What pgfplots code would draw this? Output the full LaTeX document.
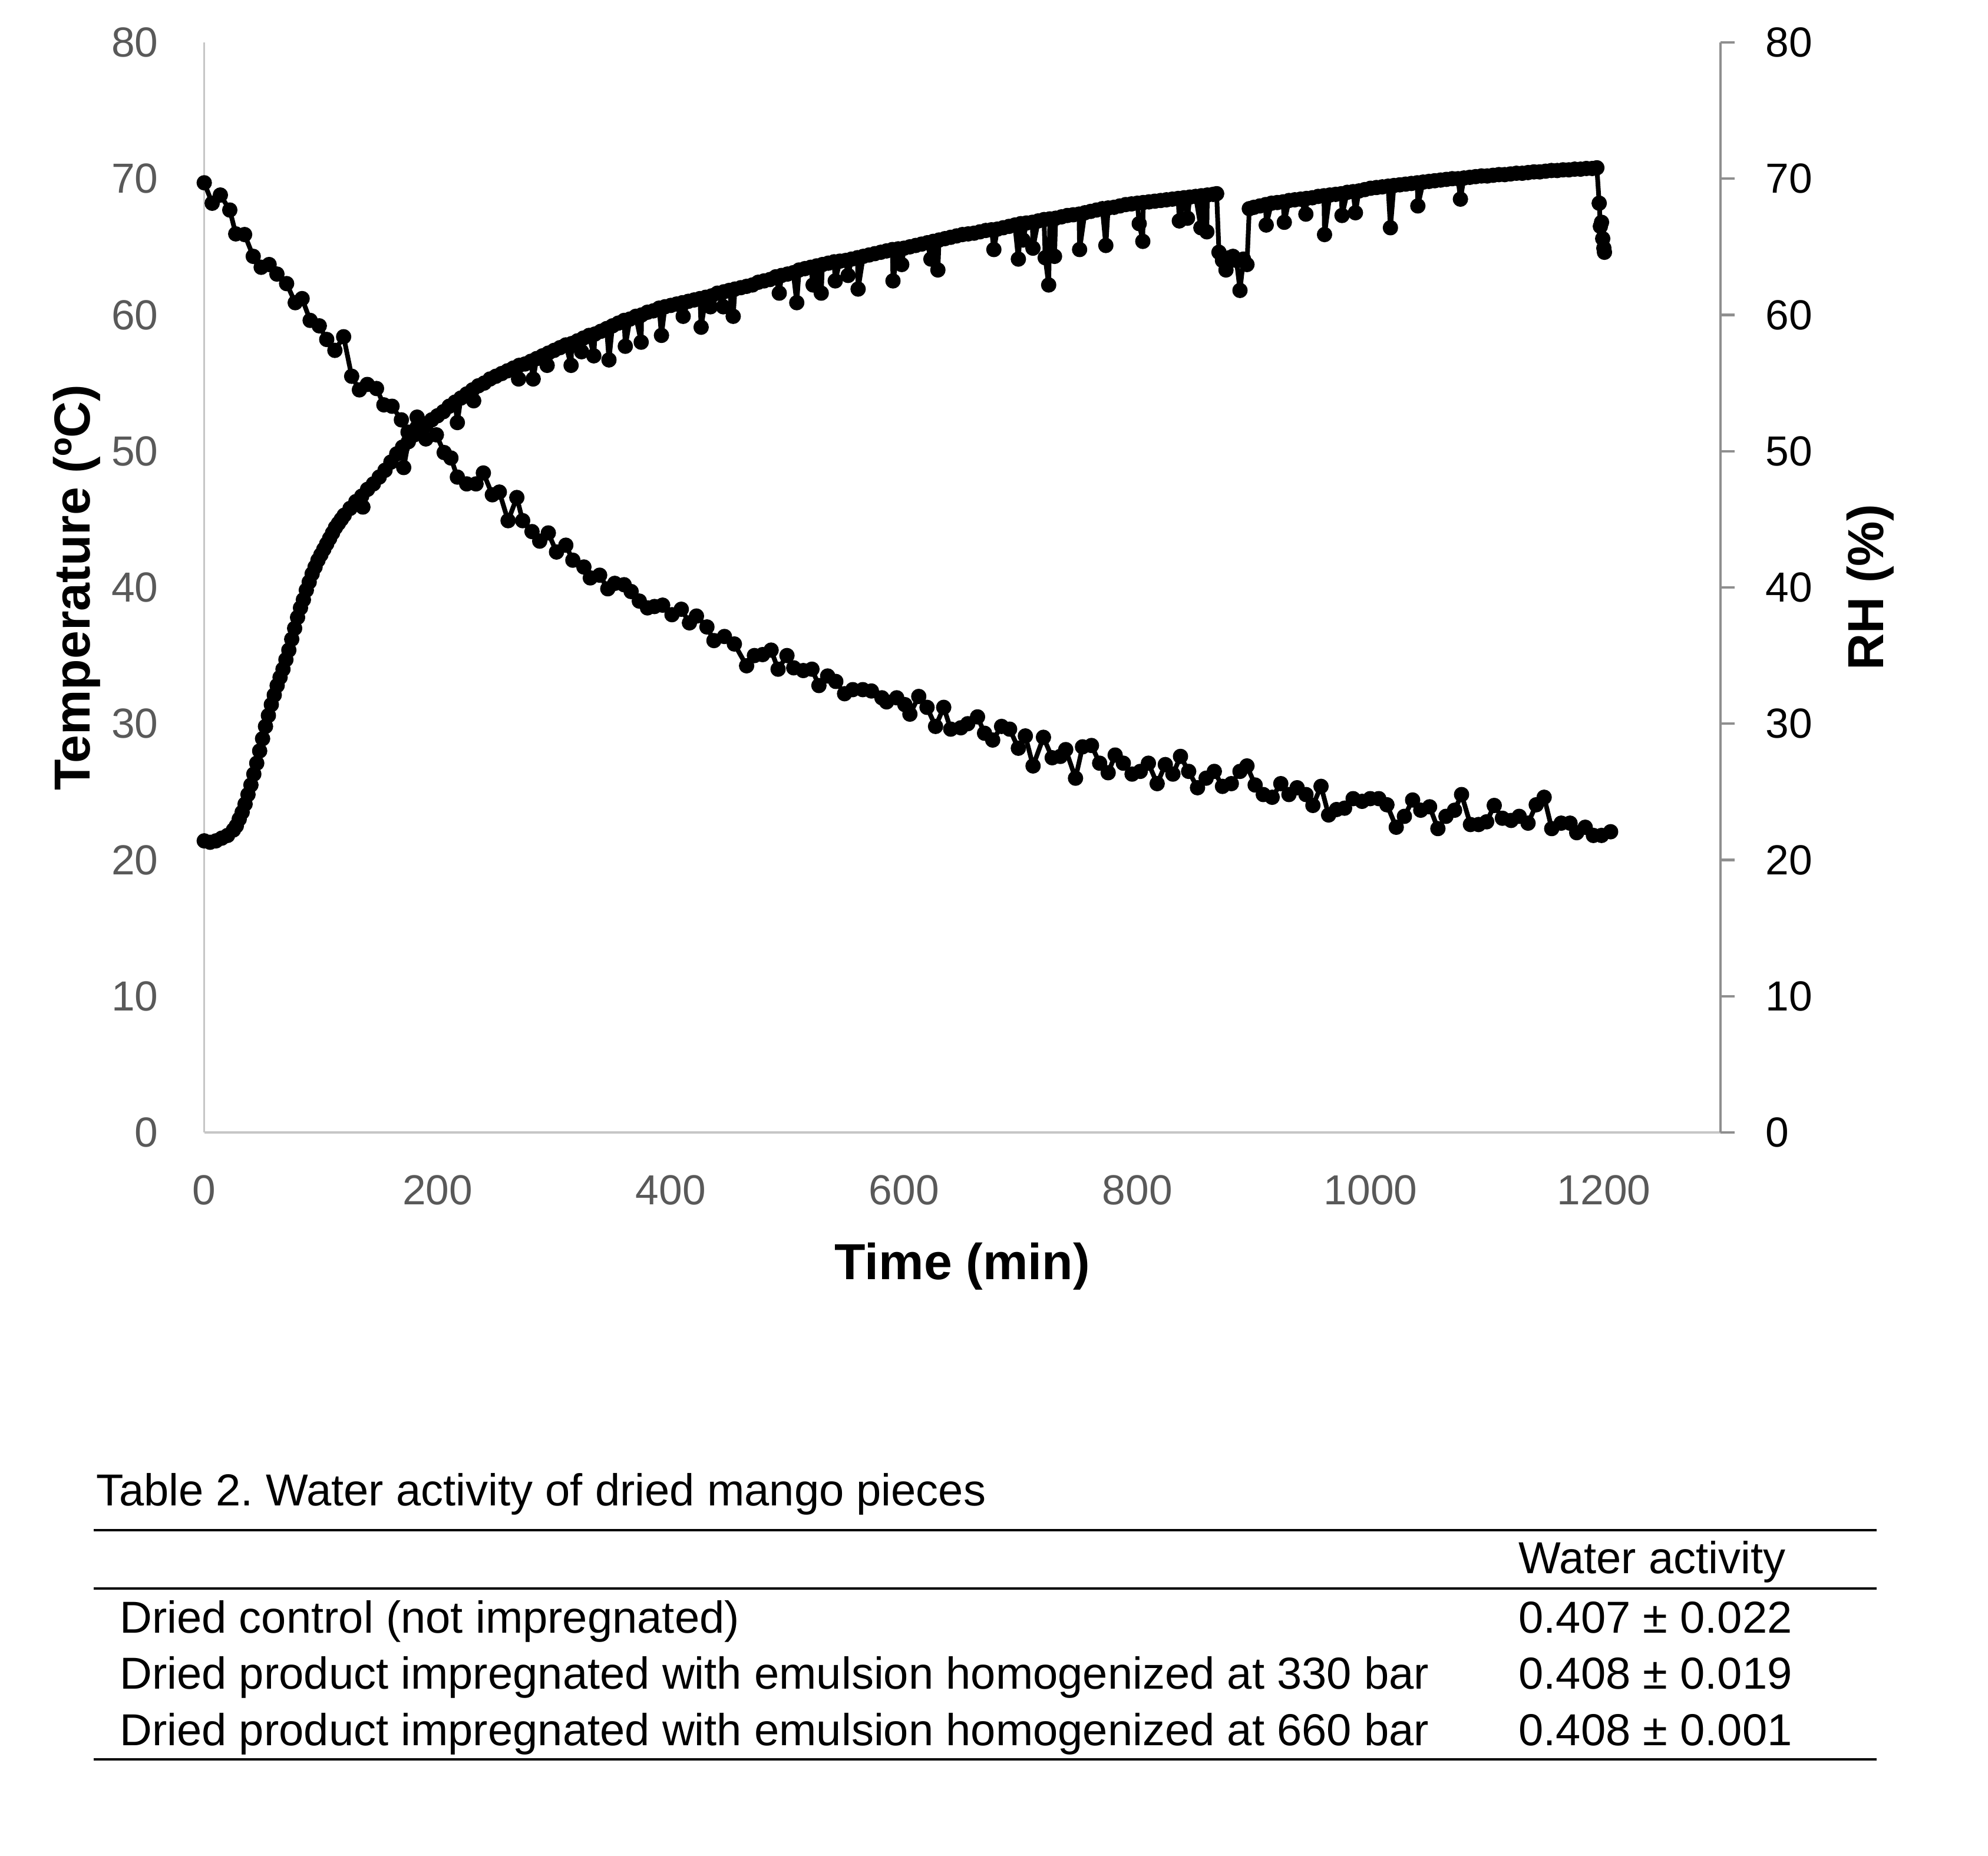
\documentclass[border=0pt]{standalone}
\usepackage{pgfplots}
\pgfplotsset{compat=1.18}
\usepackage{fontspec}
\setmainfont{Liberation Sans}
\definecolor{axlight}{HTML}{C6C6C6}
\definecolor{axdark}{HTML}{8F8F8F}
\definecolor{tickgray}{HTML}{595959}

\pgfplotsset{
  chartbase/.style={
    scale only axis, width=386pt, height=277.5pt,
    xmin=0, xmax=1300, ymin=0, ymax=80,
    at={(52pt,-288.3pt)}, anchor=south west,
    /pgf/number format/assume math mode=true,
    /pgf/number format/set thousands separator={},
    ticklabel style={font=\fontsize{10.7}{12}\selectfont},
    ytick={0,10,...,80},
  },
  series/.style={black, line width=1.2pt, line join=round, line cap=round,
    mark=*, mark size=1.35pt, mark options={solid, fill=black}},
}

\begin{document}
\frenchspacing
\begin{tikzpicture}
\path[use as bounding box] (0,0) rectangle (506.1pt,-472.5pt);

\begin{axis}[chartbase,
  axis x line*=bottom, axis y line*=left,
  x axis line style={-, draw=axlight, line width=0.55pt},
  y axis line style={-, draw=axlight, line width=0.55pt},
  xtick={0,200,...,1200},
  major tick length=0pt, tick align=inside,
  xticklabel style={anchor=base, inner sep=0pt, yshift=-18.45pt, text=tickgray},
  yticklabel style={anchor=east, inner sep=0pt, xshift=-11.5pt, text=tickgray},
  xlabel={Time (min)},
  every axis x label/.style={at={(axis description cs:0.5,-0.1351)}, anchor=base,
    inner sep=0pt, font=\fontsize{12.9}{14}\selectfont\bfseries},
  ylabel={Temperature (ºC)},
  every axis y label/.style={at={(axis description cs:-0.0841,0.5)}, anchor=center,
    rotate=90, inner sep=0pt, font=\fontsize{12.9}{14}\selectfont\bfseries},
]
% temperature inside the dryer
\addplot[series] coordinates {
(0,21.4) (5,21.3) (10,21.4) (15,21.6) (20,21.8) (25,22.2) (27.5,22.5) (30,23.0) (32.5,23.5) (35,24.1)
(37.5,24.8) (40,25.5) (42.5,26.3) (45,27.1) (47.5,28.0) (50,28.9) (52.5,29.8) (55,30.6) (57.5,31.4)
(60,32.1) (62.5,32.8) (65,33.4) (67.5,34.0) (70,34.7) (72.5,35.4) (75,36.2) (77.5,37.0)
(80,37.8) (82.5,38.5) (85,39.1) (87.5,39.8) (90,40.4) (92.5,41.0) (95,41.5) (97.5,42.0) (100,42.4)
(102.5,42.8) (105,43.2) (107.5,43.6) (110,44.0) (112.5,44.4) (115,44.7) (117.5,45.0)
(120,45.3) (125,45.8) (130,46.3) (135,46.7) (136,45.9) (140,47.2) (145,47.6) (150,48.1)
(155,48.6) (160,49.2) (165,49.8) (170,50.3) (171,48.8) (175,50.7) (180,51.2) (185,51.6)
(190,51.9) (195,52.3) (200,52.6) (205,52.9) (210,53.3) (215,53.6) (217,52.1) (220,53.9)
(225,54.2) (230,54.5) (231,53.7) (235,54.8) (240,55.0) (245,55.3) (250,55.5) (255,55.7)
(260,55.9) (265,56.1) (269.5,55.3) (270,56.3) (275,56.4) (280,56.6) (282,55.3) (285,56.8)
(290,57.0) (294,56.3) (295,57.2) (300,57.4) (305,57.6) (310,57.8) (314.5,56.3) (315,57.9)
(320,58.1) (323.5,57.3) (325,58.3) (330,58.5) (334,57.0) (335,58.6) (340,58.8) (345,59.0)
(347,56.7) (350,59.2) (355,59.4) (360,59.6) (361,57.7) (365,59.7) (370,59.9) (374.6,58.0)
(375,60.0) (380,60.2) (385,60.3) (390,60.5) (392,58.5) (395,60.6) (400,60.7) (405,60.8)
(410,60.9) (410.6,59.9) (415,61.0) (420,61.1) (425,61.2) (426,59.1) (430,61.3) (434,60.6)
(435,61.4) (440,61.6) (445,60.6) (445.5,61.7) (450,61.8) (453.5,59.9) (455,61.9) (460,62.0)
(465,62.1) (470,62.2) (475,62.4) (480,62.5) (485,62.6) (490,62.8) (493,61.6) (495,62.9)
(500,63.0) (505,63.1) (508,60.9) (510,63.3) (515,63.4) (520,63.5) (522,62.2) (525,63.6)
(529,61.6) (530,63.7) (535,63.8) (540,63.9) (541,62.5) (545,63.95) (550,64.0) (552,62.9)
(555,64.1) (560,64.2) (560.6,61.9) (565,64.3) (570,64.4) (575,64.5) (580,64.6) (585,64.7)
(590,64.8) (590.5,62.5) (595,64.85) (598,63.7) (600,64.9) (605,65.0) (610,65.1) (615,65.2)
(620,65.3) (623,64.1) (625,65.4) (629,63.3) (630,65.5) (635,65.6) (640,65.7) (645,65.8)
(650,65.9) (655,65.95) (660,66.0) (665,66.1) (670,66.2) (675,66.25) (677,64.8) (680,66.3)
(685,66.4) (690,66.5) (695,66.6) (698,64.1) (700,66.7) (702,65.5) (705,66.75) (710,66.8)
(710.5,64.9) (715,66.9) (720,67.0) (721,64.2) (724,62.2) (725,67.05) (729,64.3) (730,67.1)
(735,67.2) (740,67.3) (745,67.35) (750,67.4) (750.5,64.8) (755,67.5) (760,67.6) (765,67.7)
(770,67.8) (773,65.1) (775,67.85) (780,67.9) (785,68.0) (790,68.1) (795,68.15) (800,68.2)
(801.6,66.7) (804.7,65.4) (805,68.25) (810,68.3) (815,68.35) (820,68.4) (825,68.45) (830,68.5)
(835,68.55) (836,66.9) (840,68.6) (843,67.1) (845,68.65) (850,68.7) (854.5,66.4) (855,68.75)
(859.6,66.1) (860,68.8) (865,68.85) (868,68.9) (870,64.6) (873,64.0) (876,63.3) (879,64.2)
(882,64.3) (885,64.0) (888,61.8) (891,64.1) (894,63.7) (896,67.8) (900,67.9) (905,68.0)
(910,68.1) (910.5,66.6) (915,68.2) (920,68.25) (925,68.3) (926,66.8) (930,68.4) (935,68.45)
(940,68.5) (944.5,67.4) (945,68.55) (950,68.6) (955,68.7) (960,68.75) (960.5,65.9) (965,68.8)
(970,68.85) (975,68.9) (975.5,67.3) (980,69.0) (985,69.05) (987,67.5) (990,69.1) (995,69.2)
(1000,69.3) (1005,69.35) (1010,69.4) (1015,69.45) (1017,66.4) (1020,69.5) (1025,69.55) (1030,69.6)
(1035,69.65) (1040,69.7) (1040.5,68.0) (1045,69.75) (1050,69.8) (1055,69.85) (1060,69.9) (1065,69.95)
(1070,70.0) (1075,70.0) (1077,68.5) (1080,70.05) (1085,70.1) (1090,70.15) (1095,70.2) (1100,70.2)
(1105,70.25) (1110,70.3) (1115,70.3) (1120,70.35) (1125,70.4) (1130,70.4) (1135,70.45) (1140,70.5)
(1145,70.5) (1150,70.55) (1155,70.6) (1160,70.6) (1165,70.65) (1170,70.65) (1175,70.7) (1180,70.7)
(1185,70.75) (1190,70.75) (1194,70.8) (1196,68.2) (1197,66.5) (1198,66.8) (1199,65.6) (1200,64.9)
(1200.5,64.6)
};
% relative humidity
\addplot[series] coordinates {
(0,69.7) (6.8,68.2) (13.8,68.8) (21.9,67.7) (27,65.95) (34.6,65.9) (42,64.3) (48.8,63.5)
(55.6,63.7) (62.3,63.0) (70.6,62.3) (78,60.9) (83.9,61.2) (90.8,59.6) (98.6,59.2) (105,58.2)
(112,57.4) (119.5,58.4) (126.4,55.5) (133,54.5) (139.8,54.9) (147.7,54.6) (154,53.4) (161,53.3)
(169,52.3) (174.7,51.4) (182.5,52.5) (190,50.9) (199,51.2) (205.7,49.9) (211.5,49.5) (217,48.1)
(225,47.6) (233,47.6) (239.3,48.4) (247,46.8) (253,47.0) (260.5,44.9) (268,46.6) (273,44.9)
(281,44.1) (287.6,43.4) (295,44.0) (302,42.6) (310,43.1) (316,42.0) (325.5,41.5) (331,40.7)
(339,40.9) (346,39.9) (352,40.3) (360,40.2) (366,39.7) (373,39.0) (380,38.5) (386,38.6)
(393,38.7) (401,38.0) (409,38.4) (416,37.4) (422,37.9) (431,37.1) (437,36.1) (446,36.4)
(454.5,35.85) (465,34.25) (471.7,35.0) (478.7,35.07) (486,35.4) (492,34.0) (499.6,35.0) (505.4,34.1)
(513.6,33.9) (521,34.0) (527,32.8) (534.5,33.5) (541.5,33.1) (549,32.2) (556,32.5) (564.6,32.5)
(572,32.4) (581,31.9) (585,31.6) (593.7,31.9) (600.7,31.4) (605,30.7) (612.6,32.0) (619.7,31.2)
(627,29.8) (634,31.2) (640,29.6) (648.7,29.7) (654.6,30.0) (663,30.5) (669,29.3) (676,28.8)
(683.6,29.8) (690.5,29.6) (698,28.2) (704,29.1) (710.6,26.9) (719.5,29.0) (727,27.5) (734,27.6)
(738.6,28.1) (747,26.0) (753,28.3) (760.7,28.4) (767.7,27.1) (775,26.4) (781,27.7) (788,27.1)
(795.5,26.3) (802.5,26.5) (809.5,27.1) (817,25.6) (824,27.0) (830.5,26.3) (837,27.6) (844,26.5)
(851.6,25.3) (859,26.0) (866,26.5) (873,25.4) (880.6,25.6) (888,26.5) (894,26.9) (901,25.5)
(908,24.8) (915.6,24.6) (923,25.6) (930,24.8) (937,25.3) (944.6,24.8) (950.5,24.0) (957.5,25.4)
(964,23.3) (970.8,23.7) (977.7,23.8) (985,24.5) (992.7,24.3) (999.7,24.5) (1007,24.5) (1014,24.05)
(1022,22.4) (1029,23.2) (1036,24.4) (1043,23.65) (1050.6,23.9) (1057.7,22.3) (1064.6,23.2) (1072,23.65)
(1078,24.8) (1085.6,22.6) (1092.6,22.6) (1099.5,22.8) (1106,24.0) (1113,23.06) (1120.5,22.9) (1127.4,23.2)
(1135,22.7) (1142,24.05) (1148.8,24.6) (1155.3,22.3) (1163.4,22.7) (1171,22.7) (1176.7,22.0) (1184,22.4)
(1191,21.8) (1198,21.8) (1205.8,22.07)
};
\end{axis}

% secondary (RH) axis on the right
\begin{axis}[chartbase,
  axis y line*=right, axis x line=none,
  y axis line style={-, draw=axdark, line width=0.65pt},
  ytick style={draw=axdark, line width=0.65pt},
  tick align=outside, major tick length=3.6pt,
  yticklabel style={anchor=west, inner sep=0pt, xshift=7.65pt, text=black},
  ylabel={RH (\%)},
  every axis y label/.style={at={(axis description cs:1.0986,0.5)}, anchor=center,
    rotate=90, inner sep=0pt, font=\fontsize{12.9}{14}\selectfont\bfseries},
]
\end{axis}

% table below the chart
\begin{scope}[every node/.style={inner sep=0pt, anchor=base west, font=\fontsize{11.4}{13}\selectfont}]
\node at (24.4pt,-383.4pt) {Table 2. Water activity of dried mango pieces};
\draw[line width=0.55pt] (23.9pt,-389.55pt) -- (477.75pt,-389.55pt);
\node at (386.4pt,-400.65pt) {Water activity};
\draw[line width=0.55pt] (23.9pt,-404.4pt) -- (477.75pt,-404.4pt);
\node at (30.3pt,-415.8pt) {Dried control (not impregnated)};
\node at (386.4pt,-415.8pt) {0.407 ± 0.022};
\node at (30.3pt,-430.05pt) {Dried product impregnated with emulsion homogenized at 330 bar};
\node at (386.4pt,-430.05pt) {0.408 ± 0.019};
\node at (30.3pt,-444.3pt) {Dried product impregnated with emulsion homogenized at 660 bar};
\node at (386.4pt,-444.3pt) {0.408 ± 0.001};
\draw[line width=0.55pt] (23.9pt,-447.9pt) -- (477.75pt,-447.9pt);
\end{scope}
\end{tikzpicture}
\end{document}
